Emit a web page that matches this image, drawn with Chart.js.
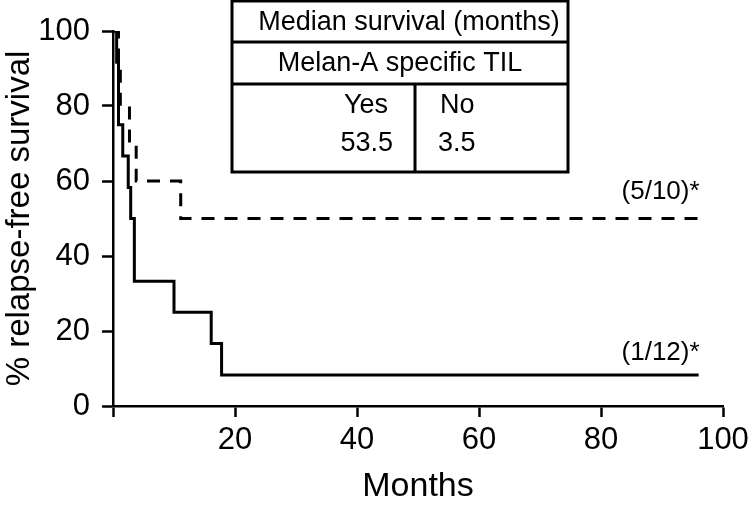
<!DOCTYPE html>
<html>
<head>
<meta charset="utf-8">
<script src="https://cdn.jsdelivr.net/npm/chart.js@4.4.1/dist/chart.umd.min.js"></script>
<style>
  html, body { margin: 0; padding: 0; background: #fff; }
  #wrap { width: 756px; height: 507px; position: relative; }
</style>
</head>
<body>
<div id="wrap"><canvas id="c" width="756" height="507"></canvas></div>
<script>
// ---- data ----
const monthsNo  = [0, 0.6, 0.9, 1.6, 2.5, 2.9, 3.5, 10.0, 16.1, 17.8, 96];
const survNo    = [100, 91.7, 75.0, 66.7, 58.3, 50.0, 33.3, 25.0, 16.7, 8.3, 8.3];
const monthsYes = [0, 0.9, 1.2, 2.7, 3.8, 11.1, 96];
const survYes   = [100, 90, 80, 70, 60, 50, 50];
const xTicks = [0, 20, 40, 60, 80, 100];
const yTicks = [0, 20, 40, 60, 80, 100];
const labelYes = '(5/10)*';
const labelNo  = '(1/12)*';
const tableTitle = 'Median survival (months)';
const tableGroup = 'Melan-A specific TIL';
const tableHeads = ['Yes', 'No'];
const tableMedians = ['53.5', '3.5'];

const FONT = '"Liberation Sans", Arial, Helvetica, sans-serif';

function pts(xs, ys) { return xs.map((x, i) => ({ x: x, y: ys[i] })); }

const overlay = {
  id: 'overlay',
  afterDraw(chart) {
    const ctx = chart.ctx;
    const xs = chart.scales.x, ys = chart.scales.y;
    ctx.save();
    ctx.fillStyle = '#000';
    ctx.font = '26px ' + FONT;
    ctx.textAlign = 'right';
    ctx.textBaseline = 'middle';
    const endYes = monthsYes[monthsYes.length - 1];
    const endNo = monthsNo[monthsNo.length - 1];
    ctx.fillText(labelYes, xs.getPixelForValue(endYes) + 1, ys.getPixelForValue(survYes[survYes.length - 1]) - 27);
    ctx.fillText(labelNo, xs.getPixelForValue(endNo) + 1, ys.getPixelForValue(survNo[survNo.length - 1]) - 22);

    // table
    const L = 232, R = 568, T = 1, B = 172, r1 = 42, r2 = 84, mid = 415;
    ctx.strokeStyle = '#000';
    ctx.lineWidth = 3;
    ctx.strokeRect(L, T, R - L, B - T);
    ctx.beginPath();
    ctx.moveTo(L, r1); ctx.lineTo(R, r1);
    ctx.moveTo(L, r2); ctx.lineTo(R, r2);
    ctx.moveTo(mid, r2); ctx.lineTo(mid, B);
    ctx.stroke();
    ctx.font = '27px ' + FONT;
    ctx.textAlign = 'center';
    ctx.fillText(tableTitle, (L + R) / 2 + 9, (T + r1) / 2 + 1);
    ctx.fillText(tableGroup, (L + R) / 2, (r1 + r2) / 2 + 1);
    ctx.textAlign = 'right';
    ctx.fillText(tableHeads[0], mid - 27, 106);
    ctx.fillText(tableMedians[0], mid - 22, 144);
    ctx.textAlign = 'left';
    ctx.fillText(tableHeads[1], mid + 25, 106);
    ctx.fillText(tableMedians[1], mid + 23, 144);
    ctx.restore();
  }
};

const axisCommon = {
  type: 'linear',
  min: 0, max: 100,
  grid: { display: true, drawOnChartArea: false, drawTicks: true, tickLength: 11, tickWidth: 2.5, color: '#000' },
  border: { display: true, color: '#000', width: 2.5 },
};

new Chart(document.getElementById('c'), {
  type: 'line',
  data: {
    datasets: [
      { label: 'No', data: pts(monthsNo, survNo), stepped: 'before', borderColor: '#000', borderWidth: 3,
        pointRadius: 0, fill: false },
      { label: 'Yes', data: pts(monthsYes, survYes), stepped: 'before', borderColor: '#000', borderWidth: 3,
        borderDash: [13, 10], pointRadius: 0, fill: false }
    ]
  },
  options: {
    responsive: false,
    animation: false,
    devicePixelRatio: 1,
    layout: { padding: { left: 0, right: 33, top: 31, bottom: 0 } },
    plugins: { legend: { display: false }, tooltip: { enabled: false } },
    scales: {
      x: Object.assign({}, axisCommon, {
        afterBuildTicks(s) { s.ticks = xTicks.map(v => ({ value: v })); },
        afterFit(s) { s.height = 101; },
        ticks: { color: '#000', font: { family: FONT, size: 31 }, padding: 5, maxRotation: 0,
          callback: v => (v === 0 ? '' : String(v)) },
        title: { display: true, text: 'Months', color: '#000', font: { family: FONT, size: 34 }, padding: { top: 0, bottom: 0 } }
      }),
      y: Object.assign({}, axisCommon, {
        afterBuildTicks(s) { s.ticks = yTicks.map(v => ({ value: v })); },
        afterFit(s) { s.width = 113; },
        ticks: { color: '#000', font: { family: FONT, size: 31 }, padding: 12, callback: v => String(v) },
        title: { display: true, text: '% relapse-free survival', color: '#000', font: { family: FONT, size: 33 }, padding: { top: 0, bottom: 0 } }
      })
    }
  },
  plugins: [overlay]
});
</script>
</body>
</html>
